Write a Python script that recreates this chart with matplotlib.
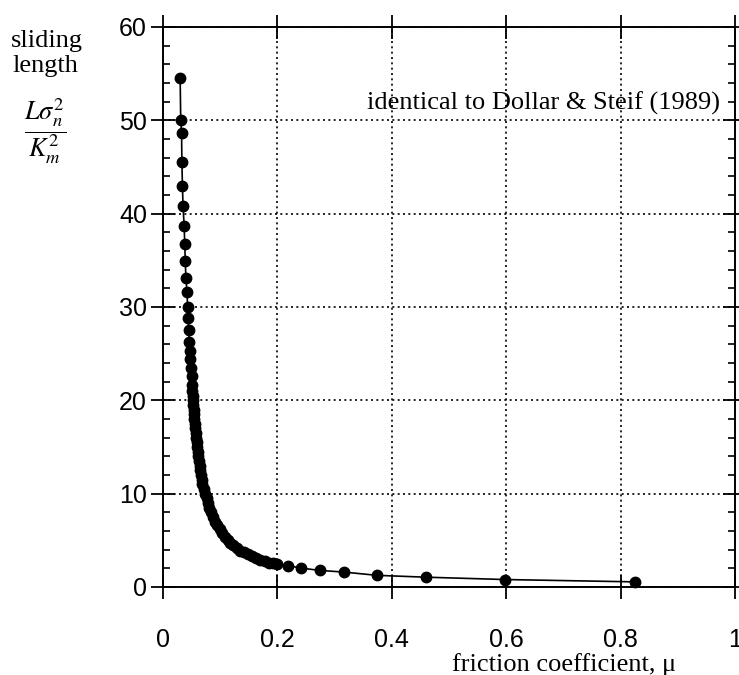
import matplotlib.pyplot as plt
from matplotlib.ticker import MultipleLocator

# --- Data ---
# friction coefficient mu
mu = [0.030, 0.031, 0.0325, 0.033, 0.034, 0.035, 0.037, 0.038, 0.039, 0.040,
      0.042, 0.043, 0.044, 0.045, 0.046, 0.047, 0.048, 0.049, 0.050, 0.051,
      0.0515, 0.052, 0.0525, 0.053, 0.054, 0.0545, 0.055, 0.056, 0.0565, 0.057,
      0.058, 0.059, 0.060, 0.061, 0.062, 0.063, 0.064, 0.065, 0.066, 0.068,
      0.069, 0.071, 0.074, 0.077, 0.079, 0.081, 0.084, 0.087, 0.091, 0.095,
      0.099, 0.103, 0.108, 0.113, 0.118, 0.123, 0.129, 0.135, 0.141, 0.148,
      0.155, 0.162, 0.170, 0.178, 0.186, 0.193,
      0.200, 0.219, 0.242, 0.274, 0.316, 0.374, 0.460, 0.598, 0.825]
# sliding length L*sigma_n^2 / K_m^2
length = [54.5, 50.0, 48.6, 45.5, 43.0, 40.8, 38.7, 36.7, 34.9, 33.1,
          31.6, 30.0, 28.8, 27.5, 26.3, 25.3, 24.4, 23.5, 22.6, 21.6,
          21.0, 20.5, 20.0, 19.5, 19.0, 18.5, 18.0, 17.5, 17.0, 16.5,
          16.0, 15.5, 15.0, 14.5, 14.0, 13.5, 13.0, 12.5, 12.0, 11.5,
          11.0, 10.5, 10.0, 9.5, 9.0, 8.5, 8.0, 7.5, 7.0, 6.6,
          6.2, 5.8, 5.4, 5.05, 4.75, 4.45, 4.15, 3.9, 3.7, 3.5,
          3.3, 3.1, 2.9, 2.75, 2.62, 2.55,
          2.50, 2.28, 2.02, 1.78, 1.60, 1.25, 1.05, 0.80, 0.55]

xticks = [0, 0.2, 0.4, 0.6, 0.8, 1]
xticklabels = ["0", "0.2", "0.4", "0.6", "0.8", "1"]
yticks = [0, 10, 20, 30, 40, 50, 60]

plt.rcParams['mathtext.fontset'] = 'stix'
serif = 'Liberation Serif'
sans = 'Liberation Sans'

fig = plt.figure(figsize=(7.39, 6.75), dpi=100)
ax = fig.add_axes([163 / 739, 1 - 587 / 675, 572 / 739, 560 / 675])

ax.plot(mu, length, '-', color='black', lw=1.2, marker='o', ms=7.5,
        mfc='black', mec='black', clip_on=False)

ax.set_xlim(0, 1)
ax.set_ylim(0, 60)
ax.set_xticks(xticks)
ax.set_xticklabels(xticklabels)
ax.set_yticks(yticks)
ax.yaxis.set_minor_locator(MultipleLocator(2))

ax.tick_params(which='major', direction='inout', length=17, width=1.3,
               top=True, right=True, labelsize=18, color='black')
ax.tick_params(axis='y', which='major', pad=3)
ax.tick_params(axis='x', which='major', pad=21)
ax.tick_params(axis='y', which='minor', direction='in', length=5, width=1.2,
               left=True, right=True)
for lab in ax.get_xticklabels() + ax.get_yticklabels():
    lab.set_family(sans)

for sp in ax.spines.values():
    sp.set_linewidth(1.4)

ax.grid(True, which='major', color='black', linestyle=(0, (1.2, 2.0)), lw=1.2)

# --- Text ---
ax.text(0.356, 51.2, "identical to Dollar & Steif (1989)", family=serif,
        fontsize=19, ha='left', va='baseline')
fig.text(564 / 739, 1 - 671 / 675, "friction coefficient, \u03bc", family=serif,
         fontsize=19, ha='center', va='baseline')
fig.text(47 / 739, 1 - 47 / 675, "sliding", family=serif, fontsize=19,
         ha='center', va='baseline')
fig.text(45 / 739, 1 - 72 / 675, "length", family=serif, fontsize=19,
         ha='center', va='baseline')
fig.text(45 / 739, 1 - 131 / 675, r"$\dfrac{L\sigma_n^2}{K_m^2}$", fontsize=19,
         ha='center', va='center')

plt.savefig("out.png", dpi=100)
